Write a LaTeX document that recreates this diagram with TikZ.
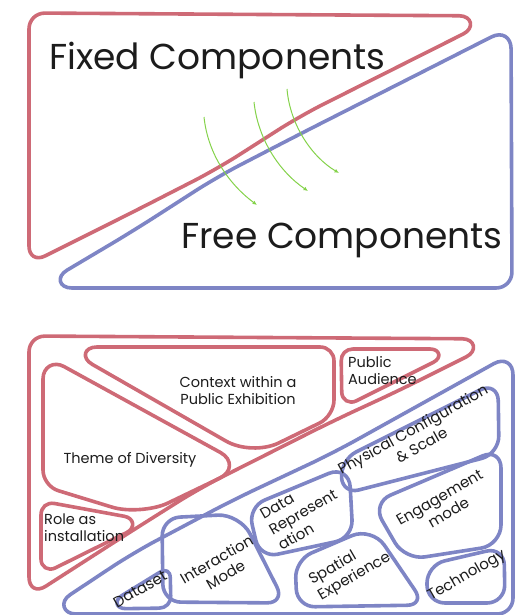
\documentclass[tikz,border=0pt]{standalone}
\usepackage{fontspec}
\setmainfont{Poppins}
\usetikzlibrary{arrows.meta,calc}
\definecolor{fixred}{RGB}{206,106,118}
\definecolor{freeblue}{RGB}{126,133,197}
\definecolor{arrowgreen}{RGB}{132,210,74}
\definecolor{ink}{RGB}{28,28,28}
% corner={prev}{vertex}{next}{cut}{control distance from vertex}
\tikzset{corner/.style n args={5}{insert path={-- ($(#2)!#4!(#1)$) .. controls ($(#2)!#5!(#1)$) and ($(#2)!#5!(#3)$) .. ($(#2)!#4!(#3)$)}}}
\begin{document}
\begin{tikzpicture}[x=1pt,y=-1pt,
  redline/.style={draw=fixred, line width=3.6pt, line join=round},
  blueline/.style={draw=freeblue, line width=3.6pt, line join=round},
  greenarrow/.style={draw=arrowgreen, line width=1pt, -{Latex[length=4.5pt,width=4pt]}},
  bigtext/.style={font=\fontsize{36}{40}\selectfont, text=ink, inner sep=0pt, anchor=base west},
  lbl/.style={font=\fontsize{14.5}{17}\selectfont, text=ink, inner sep=0pt, align=center},
  rlbl/.style={font=\fontsize{15}{18}\selectfont, text=ink, inner sep=0pt, align=center, rotate=30},
]
\useasboundingbox (0,0) rectangle (529,615);

% ---------- top: fixed vs free ----------
\path (29,13) coordinate (a1) (499,16) coordinate (a2) (300,116) coordinate (a3)
      (217,169) coordinate (a4) (133,212) coordinate (a5) (29,264) coordinate (a6);
\draw[redline] ($(a1)!16pt!(a2)$) [corner={a1}{a2}{a3}{40pt}{27pt}] [corner={a2}{a3}{a4}{25pt}{12pt}]
  [corner={a3}{a4}{a5}{25pt}{12pt}] [corner={a4}{a5}{a6}{25pt}{12pt}] [corner={a5}{a6}{a1}{18pt}{8pt}]
  [corner={a6}{a1}{a2}{16pt}{7pt}] -- cycle;

\path (511,27) coordinate (b1) (512,288) coordinate (b2) (37,288) coordinate (b3)
      (133,231) coordinate (b4) (217,177) coordinate (b5) (300,134) coordinate (b6);
\draw[blueline] ($(b1)!22pt!(b2)$) [corner={b1}{b2}{b3}{16pt}{7pt}] [corner={b2}{b3}{b4}{35pt}{22pt}]
  [corner={b3}{b4}{b5}{25pt}{12pt}] [corner={b4}{b5}{b6}{25pt}{12pt}] [corner={b5}{b6}{b1}{25pt}{12pt}]
  [corner={b6}{b1}{b2}{22pt}{10pt}] -- cycle;

\node[bigtext] (fixed) at (49,70) {Fixed Components};
\node[bigtext] (free) at (181,248) {Free Components};

\coordinate (g1s) at (204,117); \coordinate (g1e) at (257,205);
\coordinate (g2s) at (254,102); \coordinate (g2e) at (308,191);
\coordinate (g3s) at (287,89);  \coordinate (g3e) at (339,173);
\draw[greenarrow] (g1s) .. controls (208,155) and (230,185) .. (g1e);
\draw[greenarrow] (g2s) .. controls (258,140) and (280,172) .. (g2e);
\draw[greenarrow] (g3s) .. controls (290,125) and (312,157) .. (g3e);

% ---------- bottom: outer shapes ----------
\path (29,336) coordinate (c1) (502,339) coordinate (c2) (400,390) coordinate (c3) (333,421) coordinate (c4)
      (200,488) coordinate (c5) (127,534) coordinate (c6) (29,597) coordinate (c7);
\draw[redline] ($(c1)!16pt!(c2)$) [corner={c1}{c2}{c3}{40pt}{27pt}] [corner={c2}{c3}{c4}{25pt}{12pt}]
  [corner={c3}{c4}{c5}{25pt}{12pt}] [corner={c4}{c5}{c6}{25pt}{12pt}] [corner={c5}{c6}{c7}{25pt}{12pt}]
  [corner={c6}{c7}{c1}{20pt}{9pt}] [corner={c7}{c1}{c2}{16pt}{7pt}] -- cycle;

\path (513,353) coordinate (d1) (513,614) coordinate (d2) (41,614) coordinate (d3)
      (133,553) coordinate (d4) (233,500) coordinate (d5) (333,453) coordinate (d6);
\draw[blueline] ($(d1)!22pt!(d2)$) [corner={d1}{d2}{d3}{16pt}{7pt}] [corner={d2}{d3}{d4}{35pt}{22pt}]
  [corner={d3}{d4}{d5}{25pt}{12pt}] [corner={d4}{d5}{d6}{25pt}{12pt}] [corner={d5}{d6}{d1}{25pt}{12pt}]
  [corner={d6}{d1}{d2}{22pt}{10pt}] -- cycle;

% ---------- fixed components ----------
\path (62,347) coordinate (e1) (334,347) coordinate (e2) (334,416) coordinate (e3) (252,456) coordinate (e4);
\draw[redline] ($(e1)!35pt!(e2)$) [corner={e1}{e2}{e3}{14pt}{6pt}] [corner={e2}{e3}{e4}{16pt}{7pt}]
  [corner={e3}{e4}{e1}{30pt}{13pt}] [corner={e4}{e1}{e2}{35pt}{22pt}] -- cycle;

\path (341,349) coordinate (f1) (460,349) coordinate (f2) (342,408) coordinate (f3);
\draw[redline] ($(f1)!12pt!(f2)$) [corner={f1}{f2}{f3}{30pt}{20pt}] [corner={f2}{f3}{f1}{16pt}{8pt}]
  [corner={f3}{f1}{f2}{12pt}{5pt}] -- cycle;

\path (43,355) coordinate (h1) (245,466) coordinate (h2) (141,516) coordinate (h3) (43,486) coordinate (h4);
\draw[redline] ($(h1)!24pt!(h2)$) [corner={h1}{h2}{h3}{28pt}{14pt}] [corner={h2}{h3}{h4}{30pt}{14pt}]
  [corner={h3}{h4}{h1}{16pt}{7pt}] [corner={h4}{h1}{h2}{24pt}{12pt}] -- cycle;

\path (41,501) coordinate (k1) (150,521) coordinate (k2) (41,575) coordinate (k3);
\draw[redline] ($(k1)!14pt!(k2)$) [corner={k1}{k2}{k3}{26pt}{16pt}] [corner={k2}{k3}{k1}{16pt}{8pt}]
  [corner={k3}{k1}{k2}{14pt}{6pt}] -- cycle;

% ---------- free components ----------
\path (340,460) coordinate (p1) (498,381) coordinate (p2) (499,454) coordinate (p3) (343,494) coordinate (p4);
\draw[blueline] ($(p1)!18pt!(p2)$) [corner={p1}{p2}{p3}{20pt}{9pt}] [corner={p2}{p3}{p4}{18pt}{8pt}]
  [corner={p3}{p4}{p1}{16pt}{7pt}] [corner={p4}{p1}{p2}{18pt}{8pt}] -- cycle;

\path (248,507) coordinate (q1) (349,465) coordinate (q2) (353,538) coordinate (q3) (260,558) coordinate (q4);
\draw[blueline] ($(q1)!18pt!(q2)$) [corner={q1}{q2}{q3}{22pt}{10pt}] [corner={q2}{q3}{q4}{18pt}{8pt}]
  [corner={q3}{q4}{q1}{18pt}{8pt}] [corner={q4}{q1}{q2}{18pt}{8pt}] -- cycle;

\path (372,503) coordinate (s1) (501,448) coordinate (s2) (501,545) coordinate (s3) (405,560) coordinate (s4);
\draw[blueline] ($(s1)!20pt!(s2)$) [corner={s1}{s2}{s3}{20pt}{9pt}] [corner={s2}{s3}{s4}{20pt}{9pt}]
  [corner={s3}{s4}{s1}{20pt}{9pt}] [corner={s4}{s1}{s2}{20pt}{9pt}] -- cycle;

\path (295,560) coordinate (t1) (372,527) coordinate (t2) (425,605) coordinate (t3) (297,607) coordinate (t4);
\draw[blueline] ($(t1)!18pt!(t2)$) [corner={t1}{t2}{t3}{22pt}{10pt}] [corner={t2}{t3}{t4}{18pt}{8pt}]
  [corner={t3}{t4}{t1}{18pt}{8pt}] [corner={t4}{t1}{t2}{18pt}{8pt}] -- cycle;

\path (427,565) coordinate (u1) (504,547) coordinate (u2) (505,603) coordinate (u3) (427,603) coordinate (u4);
\draw[blueline] ($(u1)!18pt!(u2)$) [corner={u1}{u2}{u3}{18pt}{8pt}] [corner={u2}{u3}{u4}{18pt}{8pt}]
  [corner={u3}{u4}{u1}{18pt}{8pt}] [corner={u4}{u1}{u2}{18pt}{8pt}] -- cycle;

\path (162,518) coordinate (v1) (240,514) coordinate (v2) (285,603) coordinate (v3) (163,602) coordinate (v4);
\draw[blueline] ($(v1)!18pt!(v2)$) [corner={v1}{v2}{v3}{22pt}{10pt}] [corner={v2}{v3}{v4}{18pt}{8pt}]
  [corner={v3}{v4}{v1}{18pt}{8pt}] [corner={v4}{v1}{v2}{18pt}{8pt}] -- cycle;

\path (100,609) coordinate (w1) (170,566) coordinate (w2) (171,608) coordinate (w3);
\draw[blueline] ($(w1)!26pt!(w2)$) [corner={w1}{w2}{w3}{12pt}{5pt}] [corner={w2}{w3}{w1}{12pt}{5pt}]
  [corner={w3}{w1}{w2}{26pt}{16pt}] -- cycle;

% ---------- labels ----------
\node[lbl] (context) at (238,391) {Context within a\\Public Exhibition};
\node[lbl, align=left, anchor=west] (audience) at (348,371) {Public\\Audience};
\node[lbl] (theme) at (130,460) {Theme of Diversity};
\node[lbl, align=left, anchor=west] (role) at (44,528) {Role as\\installation};
\node[rlbl, rotate=-1] (phys) at (417,437) {Physical Configuration\\\& Scale};
\node[rlbl, align=left] (datarep) at (303,512) {Data\\Represent\\ation};
\node[rlbl] (engage) at (444,505) {Engagement\\mode};
\node[rlbl, align=left] (spatial) at (350,569) {Spatial\\Experience};
\node[rlbl] (tech) at (467,576) {Technology};
\node[rlbl] (inter) at (221,567) {Interaction\\Mode};
\node[rlbl] (dataset) at (140,589) {Dataset};
\end{tikzpicture}
\end{document}
